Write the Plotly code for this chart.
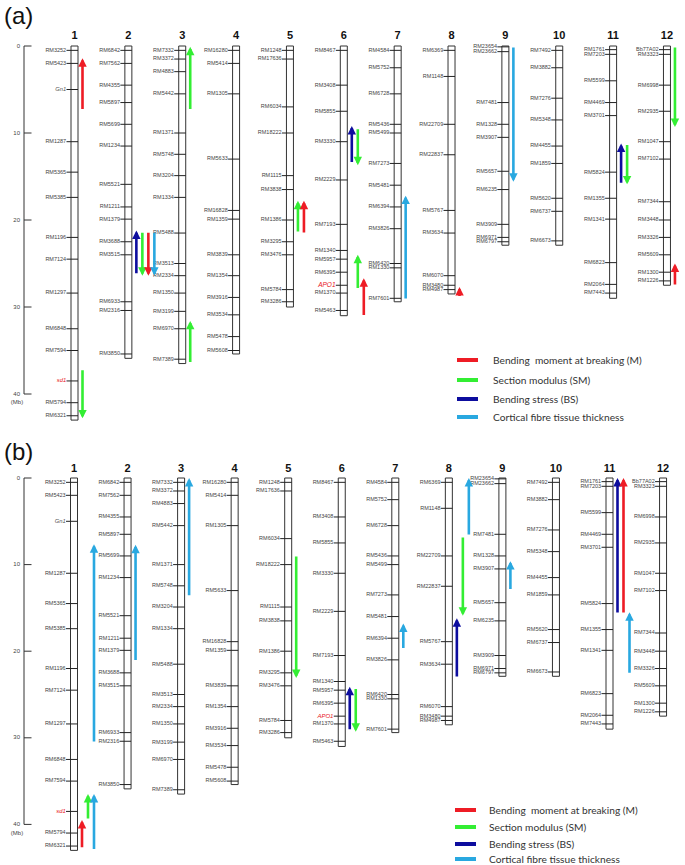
import plotly.graph_objects as go

# ---------------- data ----------------
CHROM_IDS = list(range(1, 13))
CHROM_LEN_MB = [43.0, 35.9, 36.5, 35.4, 30.0, 31.0, 29.4, 28.5, 22.9, 22.9, 29.0, 27.5]

CHR1_MARKERS = ["RM3252", "RM5423", "Gn1", "RM1287", "RM5365", "RM5385", "RM1196", "RM7124",
                "RM1297", "RM6848", "RM7594", "sd1", "RM5794", "RM6321"]
CHR1_POS = [0.5, 2.0, 5.0, 11.0, 14.5, 17.4, 22.0, 24.5, 28.4, 32.5, 35.0, 38.5, 41.0, 42.5]
CHR2_MARKERS = ["RM6842", "RM7562", "RM4355", "RM5897", "RM5699", "RM1234", "RM5521", "RM1211",
                "RM1379", "RM3688", "RM3515", "RM6933", "RM2316", "RM3850"]
CHR2_POS = [0.5, 2.0, 4.5, 6.5, 9.0, 11.5, 15.9, 18.5, 19.9, 22.5, 24.0, 29.4, 30.4, 35.4]
CHR3_MARKERS = ["RM7332", "RM3372", "RM4883", "RM5442", "RM1371", "RM5748", "RM3204", "RM1334",
                "RM5488", "RM3513", "RM2334", "RM1350", "RM3199", "RM6970", "RM7389"]
CHR3_POS = [0.5, 1.5, 2.95, 5.5, 10.0, 12.45, 14.9, 17.4, 21.5, 25.0, 26.4, 28.4, 30.5, 32.5, 36.0]
CHR4_MARKERS = ["RM16280", "RM5414", "RM1305", "RM5633", "RM16828", "RM1359", "RM3839", "RM1354",
                "RM3916", "RM3534", "RM5478", "RM5608"]
CHR4_POS = [0.5, 2.0, 5.5, 13.0, 18.9, 19.9, 24.0, 26.4, 28.9, 30.9, 33.4, 35.0]
CHR5_MARKERS = ["RM1248", "RM17636", "RM6034", "RM18222", "RM1115", "RM3838", "RM1386", "RM3295",
                "RM3476", "RM5784", "RM3286"]
CHR5_POS = [0.5, 1.5, 7.0, 10.0, 14.9, 16.5, 20.0, 22.5, 24.0, 28.0, 29.4]
CHR6_MARKERS = ["RM8467", "RM3408", "RM5855", "RM3330", "RM2229", "RM7193", "RM1340", "RM5957",
                "RM6395", "APO1", "RM1370", "RM5463"]
CHR6_POS = [0.5, 4.5, 7.5, 11.0, 15.4, 20.5, 23.5, 24.5, 26.0, 27.5, 28.4, 30.4]
CHR7_MARKERS = ["RM4584", "RM5752", "RM6728", "RM5436", "RM5499", "RM7273", "RM5481", "RM6394",
                "RM3826", "RM6420", "RM1330", "RM7601"]
CHR7_POS = [0.5, 2.5, 5.5, 9.0, 10.0, 13.5, 16.0, 18.5, 21.0, 25.0, 25.5, 29.0]
CHR8_MARKERS = ["RM6369", "RM1148", "RM22709", "RM22837", "RM5767", "RM3634", "RM6070", "RM3480",
                "RM4987"]
CHR8_POS = [0.5, 3.5, 9.0, 12.5, 18.9, 21.5, 26.4, 27.5, 28.0]
CHR9_MARKERS = ["RM23654", "RM23662", "RM7481", "RM1328", "RM3907", "RM5657", "RM6235", "RM3909",
                "RM6971", "RM6797"]
CHR9_POS = [0.1, 0.65, 6.5, 9.0, 10.5, 14.4, 16.5, 20.5, 22.0, 22.5]
CHR10_MARKERS = ["RM7492", "RM3882", "RM7276", "RM5348", "RM4455", "RM1859", "RM5620", "RM6737",
                 "RM6673"]
CHR10_POS = [0.5, 2.5, 6.0, 8.5, 11.5, 13.5, 17.5, 19.0, 22.4]
CHR11_MARKERS = ["RM1761", "RM7203", "RM5599", "RM4469", "RM3701", "RM5824", "RM1355", "RM1341",
                 "RM6823", "RM2064", "RM7443"]
CHR11_POS = [0.42, 0.96, 4.0, 6.5, 8.0, 14.5, 17.5, 19.9, 24.9, 27.4, 28.4]
CHR12_MARKERS = ["Bb77A02", "RM3323", "RM6998", "RM2935", "RM1047", "RM7102", "RM7344", "RM3448",
                 "RM3326", "RM5609", "RM1300", "RM1226"]
CHR12_POS = [0.42, 0.96, 4.5, 7.5, 11.0, 13.0, 17.9, 20.0, 22.0, 24.0, 26.0, 27.0]

SCALE_TICKS = [0, 10, 20, 30, 40]

# QTL arrows: chromosome, trait, tail (Mb), head (Mb), lane beside chromosome
QTL_A_CHROM = [1, 1, 2, 2, 2, 2, 3, 3, 5, 5, 6, 6, 6, 6, 7, 8, 9, 11, 11, 12, 12]
QTL_A_TRAIT = ["M", "SM", "BS", "SM", "M", "CFT", "SM", "SM", "SM", "M", "BS", "SM", "SM", "M",
               "CFT", "M", "CFT", "BS", "SM", "SM", "M"]
QTL_A_TAIL = [7.4, 37.1, 26.3, 21.3, 21.3, 21.3, 7.4, 36.5, 21.5, 21.6, 13.5, 9.4, 28.0, 31.1,
              29.2, 28.9, 0.0, 15.9, 11.2, 0.0, 27.6]
QTL_A_HEAD = [1.4, 42.8, 21.2, 26.4, 26.4, 26.4, 0.1, 31.6, 17.8, 17.8, 9.2, 13.7, 24.0, 26.7,
              17.2, 27.7, 15.6, 11.2, 15.9, 9.3, 25.0]
QTL_A_LANE = [0, 0, 0, 1, 2, 3, 0, 0, 0, 1, 0, 1, 1, 2, 0, 0, 0, 0, 1, 0, 0]

QTL_B_CHROM = [1, 1, 1, 1, 2, 3, 5, 6, 6, 7, 8, 8, 8, 9, 11, 11, 11]
QTL_B_TRAIT = ["CFT", "SM", "CFT", "M", "CFT", "CFT", "SM", "BS", "SM", "CFT", "BS", "SM", "CFT",
               "CFT", "BS", "M", "CFT"]
QTL_B_TAIL = [30.6, 39.5, 43.0, 42.8, 21.2, 13.7, 8.9, 29.2, 24.2, 19.8, 23.1, 6.7, 6.7, 13.0,
              15.7, 15.7, 22.65]
QTL_B_HEAD = [7.65, 36.5, 36.5, 39.5, 7.7, 0.0, 23.1, 24.1, 29.3, 16.8, 16.2, 15.9, 0.0, 9.6,
              0.0, 0.0, 15.5]
QTL_B_LANE = [2, 1, 2, 0, 0, 0, 0, 0, 1, 0, 0, 1, 2, 0, 0, 1, 2]

TRAITS = ["M", "SM", "BS", "CFT"]
TRAIT_LABELS = ["Bending  moment at breaking (M)", "Section modulus (SM)",
                "Bending stress (BS)", "Cortical fibre tissue thickness"]

# ---------------- styles ----------------
TRAIT_COLORS = {"M": "#EE1C25", "SM": "#33EE33", "BS": "#0D0D9E", "CFT": "#29A8E0"}
GENE_COLORS = {"Gn1": "#555555", "sd1": "#E8141B", "APO1": "#E8141B"}
LABEL_FONT = "Liberation Sans, Arial, sans-serif"
W, H = 685, 865

ALL_MARKERS = [CHR1_MARKERS, CHR2_MARKERS, CHR3_MARKERS, CHR4_MARKERS, CHR5_MARKERS, CHR6_MARKERS,
               CHR7_MARKERS, CHR8_MARKERS, CHR9_MARKERS, CHR10_MARKERS, CHR11_MARKERS, CHR12_MARKERS]
ALL_POS = [CHR1_POS, CHR2_POS, CHR3_POS, CHR4_POS, CHR5_POS, CHR6_POS,
           CHR7_POS, CHR8_POS, CHR9_POS, CHR10_POS, CHR11_POS, CHR12_POS]

PANELS = [
    dict(name="a", xref="x", yref="y", x0px=74.5, sp=53.86, y0px=46.0, k=8.7,
         dom=[0.5, 1.0], top_px=0.0, bot_px=432.5, num_y=-1.15, apo_size=6.5,
         qtl=(QTL_A_CHROM, QTL_A_TRAIT, QTL_A_TAIL, QTL_A_HEAD, QTL_A_LANE),
         leg_x=(457, 478), leg_y=[360, 380, 399, 417], leg_tx=491, label_y=16),
    dict(name="b", xref="x2", yref="y2", x0px=74.0, sp=53.55, y0px=478.0, k=8.66,
         dom=[0.0, 0.5], top_px=432.5, bot_px=865.0, num_y=-1.05, apo_size=6.0,
         qtl=(QTL_B_CHROM, QTL_B_TRAIT, QTL_B_TAIL, QTL_B_HEAD, QTL_B_LANE),
         leg_x=(455, 476), leg_y=[810, 827, 844, 859], leg_tx=487, label_y=452),
]

fig = go.Figure()
annotations = []
shapes = []
layout_axes = {}

for i, p in enumerate(PANELS):
    xr, yr, sp = p["xref"], p["yref"], p["sp"]
    half = 3.5 / sp
    tick_left = 8.0 / sp

    # chromosome outlines
    ox, oy = [], []
    for c, L in zip(CHROM_IDS, CHROM_LEN_MB):
        ox += [c - half, c + half, c + half, c - half, c - half, None]
        oy += [0, 0, L, L, 0, None]
    fig.add_trace(go.Scatter(x=ox, y=oy, mode="lines", xaxis=xr, yaxis=yr,
                             line=dict(color="#333333", width=1), hoverinfo="skip"))

    # marker ticks and labels
    tx, ty, lx, ly, lt, lc, ls = [], [], [], [], [], [], []
    for c, names, pos in zip(CHROM_IDS, ALL_MARKERS, ALL_POS):
        for n, y in zip(names, pos):
            tx += [c - tick_left, c + half, None]
            ty += [y, y, None]
            lx.append(c - tick_left - 0.3 / sp)
            ly.append(y)
            if n in GENE_COLORS:
                lt.append("<i>%s</i>" % n)
                lc.append(GENE_COLORS[n])
                ls.append(p["apo_size"] if n == "APO1" else 5.8)
            else:
                lt.append(n)
                lc.append("#444444")
                ls.append(5.5)
    fig.add_trace(go.Scatter(x=tx, y=ty, mode="lines", xaxis=xr, yaxis=yr,
                             line=dict(color="#222222", width=1), hoverinfo="skip"))
    fig.add_trace(go.Scatter(x=lx, y=ly, mode="text", text=lt, textposition="middle left",
                             xaxis=xr, yaxis=yr, cliponaxis=False,
                             textfont=dict(family=LABEL_FONT, size=ls, color=lc), hoverinfo="skip"))

    # chromosome numbers
    fig.add_trace(go.Scatter(x=CHROM_IDS, y=[p["num_y"]] * len(CHROM_IDS), mode="text",
                             text=["<b>%d</b>" % c for c in CHROM_IDS], textposition="middle center",
                             xaxis=xr, yaxis=yr, cliponaxis=False,
                             textfont=dict(family=LABEL_FONT, size=11, color="#111111"),
                             hoverinfo="skip"))

    # scale bar
    sx = 1 + (24.0 - p["x0px"]) / sp
    bx, by = [sx, sx, None], [SCALE_TICKS[0], SCALE_TICKS[-1], None]
    for t in SCALE_TICKS:
        bx += [sx, sx + 7.5 / sp, None]
        by += [t, t, None]
    fig.add_trace(go.Scatter(x=bx, y=by, mode="lines", xaxis=xr, yaxis=yr,
                             line=dict(color="#333333", width=1), hoverinfo="skip"))
    fig.add_trace(go.Scatter(x=[sx - 4.0 / sp] * len(SCALE_TICKS), y=SCALE_TICKS, mode="text",
                             text=[str(t) for t in SCALE_TICKS], textposition="middle left",
                             xaxis=xr, yaxis=yr, cliponaxis=False,
                             textfont=dict(family=LABEL_FONT, size=6, color="#444444"),
                             hoverinfo="skip"))
    fig.add_trace(go.Scatter(x=[sx - 7.0 / sp], y=[SCALE_TICKS[-1] + 1.0], mode="text",
                             text=["(Mb)"], textposition="middle center",
                             xaxis=xr, yaxis=yr, cliponaxis=False,
                             textfont=dict(family=LABEL_FONT, size=6, color="#444444"),
                             hoverinfo="skip"))

    # QTL arrows
    qc, qt, qtail, qhead, qlane = p["qtl"]
    for c, t, ta, hd, ln in zip(qc, qt, qtail, qhead, qlane):
        xx = c + (8.0 + 6.0 * ln) / sp
        annotations.append(dict(x=xx, y=hd, ax=xx, ay=ta, xref=xr, yref=yr, axref=xr, ayref=yr,
                                text="", showarrow=True, arrowhead=2, arrowsize=0.65,
                                arrowwidth=2.6, arrowcolor=TRAIT_COLORS[t],
                                standoff=0, startstandoff=0))

    # legend
    for t, lab, ypx in zip(TRAITS, TRAIT_LABELS, p["leg_y"]):
        shapes.append(dict(type="line", xref="paper", yref="paper",
                           x0=p["leg_x"][0] / W, x1=p["leg_x"][1] / W,
                           y0=1 - ypx / H, y1=1 - ypx / H,
                           line=dict(color=TRAIT_COLORS[t], width=4)))
        annotations.append(dict(x=p["leg_tx"] / W, y=1 - ypx / H, xref="paper", yref="paper",
                                text=lab, showarrow=False, xanchor="left", yanchor="middle",
                                font=dict(family="Lato, sans-serif", size=10.2, color="#333333")))

    # panel label
    annotations.append(dict(x=2 / W, y=1 - p["label_y"] / H, xref="paper", yref="paper",
                            text="(%s)" % p["name"], showarrow=False, xanchor="left",
                            yanchor="middle",
                            font=dict(family=LABEL_FONT, size=24, color="#111111")))

    # axes
    xr_lo = 1 - p["x0px"] / sp
    xr_hi = 1 + (W - p["x0px"]) / sp
    y_bot = (p["bot_px"] - p["y0px"]) / p["k"]
    y_top = (p["top_px"] - p["y0px"]) / p["k"]
    xkey = "xaxis" if i == 0 else "xaxis2"
    ykey = "yaxis" if i == 0 else "yaxis2"
    layout_axes[xkey] = dict(domain=[0, 1], range=[xr_lo, xr_hi], visible=False,
                             anchor=yr, fixedrange=True)
    layout_axes[ykey] = dict(domain=p["dom"], range=[y_bot, y_top], visible=False,
                             anchor=xr, fixedrange=True)

fig.update_layout(width=W, height=H, margin=dict(l=0, r=0, t=0, b=0),
                  paper_bgcolor="white", plot_bgcolor="white", showlegend=False,
                  annotations=annotations, shapes=shapes, **layout_axes)

fig.write_html("out.html", config={"displayModeBar": False},
               post_script="document.body.style.margin='0';document.body.style.overflow='hidden';")
